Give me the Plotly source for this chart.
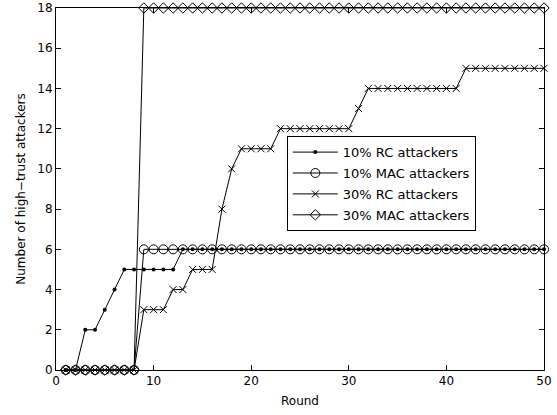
import plotly.graph_objects as go

rounds = list(range(1, 51))
rc10 = [0, 0, 2, 2, 3, 4, 5, 5, 5, 5, 5, 5] + [6] * 38
mac10 = [0] * 8 + [6] * 42
rc30 = ([0] * 8 + [3, 3, 3, 4, 4, 5, 5, 5, 8, 10, 11, 11, 11, 11]
        + [12] * 8 + [13] + [14] * 10 + [15] * 9)
mac30 = [0] * 8 + [18] * 42

series = [
    ("10% RC attackers", rc10, dict(symbol="circle", size=4, color="black")),
    ("10% MAC attackers", mac10, dict(symbol="circle-open", size=9, color="black", line=dict(width=1, color="black"))),
    ("30% RC attackers", rc30, dict(symbol="x-thin-open", size=7, color="black", line=dict(width=1, color="black"))),
    ("30% MAC attackers", mac30, dict(symbol="diamond-open", size=8, color="black", line=dict(width=1, color="black"))),
]

fig = go.Figure()
for i, (name, ys, mk) in enumerate(series):
    fig.add_trace(go.Scatter(x=rounds, y=ys, mode="lines+markers", name=name,
                             legendgroup=f"g{i}",
                             line=dict(color="black", width=1), marker=mk,
                             cliponaxis=False))

axis_common = dict(showgrid=False, zeroline=False, showline=True, linecolor="black",
                   linewidth=1, mirror="ticks", ticks="inside", ticklen=5,
                   tickcolor="black", tickfont=dict(size=12, color="black"),
                   automargin=False)
fig.update_xaxes(range=[0, 50], dtick=10, title=dict(text="Round", standoff=9,
                 font=dict(size=12, color="black")), **axis_common)
fig.update_yaxes(range=[0, 18], dtick=2, title=dict(text="Number of high−trust attackers",
                 standoff=9, font=dict(size=12, color="black")), **axis_common)

fig.update_layout(
    width=557, height=415,
    margin=dict(l=56, r=13, t=8, b=45),
    plot_bgcolor="white", paper_bgcolor="white",
    font=dict(family="DejaVu Sans", size=12, color="black"),
    legend=dict(x=0.473, y=0.646, xanchor="left", yanchor="top",
                bordercolor="black", borderwidth=1, bgcolor="white",
                font=dict(size=13), tracegroupgap=1, itemwidth=45),
)
fig.write_html("out.html", config={"displayModeBar": False},
               post_script="document.body.style.margin='0';")
